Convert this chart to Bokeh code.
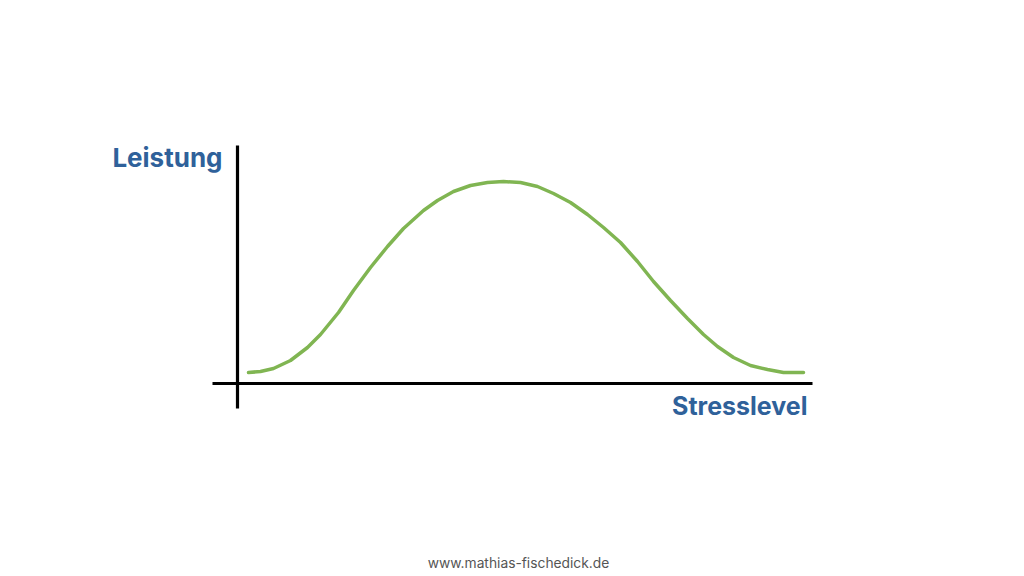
from bokeh.plotting import figure
from bokeh.models import Range1d, ColumnDataSource
from bokeh.core.properties import value
from bokeh.embed import file_html
from bokeh.resources import INLINE

# Curve data (stress level vs. performance)
stress = [11, 23, 36, 53, 70, 83, 101, 116, 133, 150, 166, 186, 200, 216, 233, 250,
          266, 283, 300, 316, 333, 350, 366, 383, 400, 416, 433, 450, 466, 480, 496,
          513, 530, 546, 566]
performance = [11, 12, 15, 23, 36, 49, 71, 93, 116, 137, 155, 173, 183, 192, 198, 201,
               202, 201, 197, 190, 181, 169, 156, 141, 122, 102, 83, 65, 49, 37, 26,
               18, 14, 11, 11]

# Axis extents
x_axis_x = [-25, 575]
x_axis_y = [0, 0]
y_axis_x = [0, 0]
y_axis_y = [-25, 238]

y_label = "Leistung"
x_label = "Stresslevel"
footer = "www.mathias-fischedick.de"

p = figure(width=1024, height=576, output_backend="svg", toolbar_location=None,
           x_range=Range1d(-237, 787), y_range=Range1d(-193, 383),
           min_border=0, outline_line_color=None)
p.axis.visible = False
p.grid.visible = False
p.background_fill_color = "white"
p.border_fill_color = "white"

p.line(x_axis_x, x_axis_y, line_color="black", line_width=3.2, line_cap="butt")
p.line(y_axis_x, y_axis_y, line_color="black", line_width=3.2, line_cap="butt")

src = ColumnDataSource(dict(x=stress, y=performance))
p.line("x", "y", source=src, line_color="#80b552", line_width=3.5,
       line_join="round", line_cap="round")

p.text(x=[-15], y=[226], text=[y_label], text_font=value("Inter"),
       text_font_style="bold", text_font_size="26px", text_color="#2f619a",
       text_align="right", text_baseline="alphabetic")
p.text(x=[570], y=[-22], text=[x_label], text_font=value("Inter"),
       text_font_style="bold", text_font_size="25px", text_color="#2f619a",
       text_align="right", text_baseline="alphabetic")
p.text(x=[281], y=[-179], text=[footer], text_font=value("Inter"),
       text_font_size="13.8px", text_color="#555555",
       text_align="center", text_baseline="alphabetic")

open("out.html", "w").write(file_html(p, INLINE))
